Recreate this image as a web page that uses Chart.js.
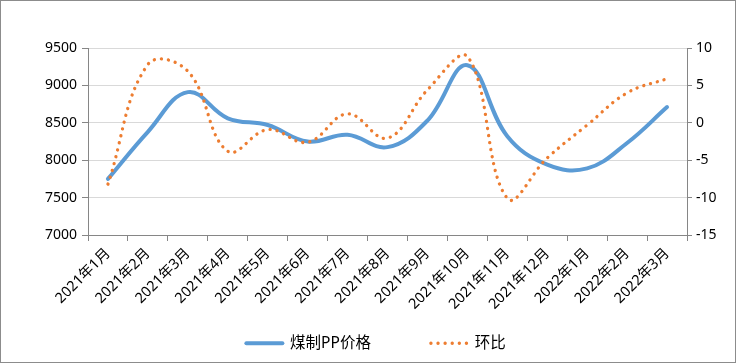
<!DOCTYPE html>
<html>
<head>
<meta charset="utf-8">
<script src="https://cdn.jsdelivr.net/npm/chart.js@4.4.1/dist/chart.umd.min.js"></script>
<style>
  html, body { margin: 0; padding: 0; background: #fff; }
  #wrap { width: 736px; height: 363px; }
</style>
</head>
<body>
<div id="wrap"><canvas id="pp-chart" width="736" height="363"></canvas></div>
<script>
var months = ["2021年1月", "2021年2月", "2021年3月", "2021年4月", "2021年5月", "2021年6月", "2021年7月",
  "2021年8月", "2021年9月", "2021年10月", "2021年11月", "2021年12月", "2022年1月", "2022年2月", "2022年3月"];
var ppPrice = [7750, 8380, 8910, 8560, 8470, 8250, 8340, 8175, 8530, 9270, 8320, 7940, 7890, 8230, 8710];
var huanbi = [-8.2, 7.8, 6.9, -3.8, -0.9, -2.6, 1.2, -2.05, 4.4, 8.9, -10.1, -4.7, -0.3, 4.0, 5.9];
var leftTicks = [7000, 7500, 8000, 8500, 9000, 9500];
var rightTicks = [-15, -10, -5, 0, 5, 10];

var axisGray = "#868686";
var gridGray = "#d9d9d9";
var fontFamily = "'Noto Sans', 'Noto Sans CJK SC', sans-serif";

// outer frame like the excel chart border
var framePlugin = {
  id: "frame",
  beforeDraw: function(chart) {
    var ctx = chart.ctx;
    ctx.save();
    ctx.fillStyle = "#fff";
    ctx.fillRect(0, 0, chart.width, chart.height);
    ctx.strokeStyle = "#8c8c8c";
    ctx.lineWidth = 1;
    ctx.strokeRect(0.5, 0.5, chart.width - 1, chart.height - 1);
    ctx.restore();
  }
};

function plainTick(value) { return String(value); }

var ctx = document.getElementById("pp-chart").getContext("2d");
var myChart = new Chart(ctx, {
  type: "line",
  data: {
    labels: months,
    datasets: [{
      label: "煤制PP价格",
      data: ppPrice,
      yAxisID: "y",
      borderColor: "#5b9bd5",
      backgroundColor: "#5b9bd5",
      borderWidth: 4,
      borderCapStyle: "round",
      pointRadius: 0,
      tension: 0.4,
      order: 2
    }, {
      label: "环比",
      data: huanbi,
      yAxisID: "y1",
      borderColor: "#ed7d31",
      backgroundColor: "#ed7d31",
      borderWidth: 3.3,
      borderDash: [0.1, 7],
      borderCapStyle: "round",
      pointRadius: 0,
      tension: 0.4,
      order: 1
    }]
  },
  options: {
    responsive: false,
    animation: false,
    layout: { padding: { left: 16, right: 0, top: 48, bottom: 2 } },
    plugins: {
      tooltip: { enabled: false },
      legend: {
        position: "bottom",
        labels: {
          color: "#000",
          font: { family: fontFamily, size: 15.5 },
          boxWidth: 36,
          boxHeight: 14,
          padding: 60,
          usePointStyle: true,
          pointStyleWidth: 36,
          sort: function(a, b) { return a.datasetIndex - b.datasetIndex; },
          generateLabels: function(chart) {
            var items = Chart.defaults.plugins.legend.labels.generateLabels(chart);
            items.forEach(function(item) {
              var ds = chart.data.datasets[item.datasetIndex];
              item.pointStyle = "line";
              item.lineWidth = ds.borderWidth;
              item.lineDash = ds.borderDash || [];
              item.lineCap = ds.borderCapStyle;
              item.strokeStyle = ds.borderColor;
            });
            return items;
          }
        }
      }
    },
    scales: {
      x: {
        offset: true,
        afterFit: function(scale) {
          scale.height = 40.5;
          // rotated labels run below the short axis box, so don't clip them
          scale._computeLabelArea = function() { return undefined; };
        },
        grid: { display: true, drawOnChartArea: false, offset: true, tickLength: 6, tickColor: axisGray },
        border: { color: axisGray, width: 1 },
        ticks: {
          color: "#000",
          font: { family: fontFamily, size: 14.5 },
          minRotation: 45,
          maxRotation: 45,
          autoSkip: false,
          padding: 4
        }
      },
      y: {
        position: "left",
        min: 7000,
        max: 9500,
        afterFit: function(scale) { scale.width = 72; },
        afterBuildTicks: function(scale) {
          scale.ticks = leftTicks.map(function(v) { return { value: v }; });
        },
        grid: { color: gridGray, tickLength: 6, tickColor: axisGray },
        border: { color: axisGray, width: 1 },
        ticks: { color: "#000", font: { family: fontFamily, size: 14 }, padding: 5, callback: plainTick }
      },
      y1: {
        position: "right",
        min: -15,
        max: 10,
        afterFit: function(scale) { scale.width = 49; },
        afterBuildTicks: function(scale) {
          scale.ticks = rightTicks.map(function(v) { return { value: v }; });
        },
        grid: { drawOnChartArea: false, tickLength: 5, tickColor: axisGray },
        border: { color: axisGray, width: 1 },
        ticks: { color: "#000", font: { family: fontFamily, size: 14 }, padding: 4, callback: plainTick }
      }
    }
  },
  plugins: [framePlugin]
});
</script>
</body>
</html>
